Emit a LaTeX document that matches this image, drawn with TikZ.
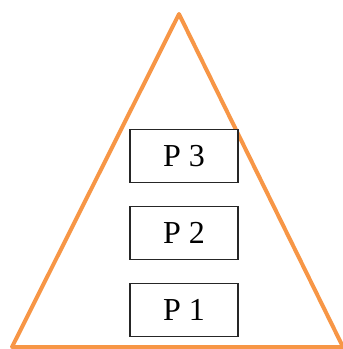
\documentclass[tikz,border=0pt]{standalone}
\usepackage{fontspec}
\setmainfont{Liberation Serif}
\usepackage{tikz}
\usetikzlibrary{positioning}
\definecolor{pyrorange}{RGB}{247,150,70}
\tikzset{
  pbox/.style={draw=black!85,line width=1.2pt,minimum width=108pt,minimum height=53pt,
            inner sep=0pt,align=center,font=\fontsize{32}{38}\selectfont,fill=white},
  pyrline/.style={draw=pyrorange,line width=4pt,line join=round},
}
\begin{document}
\begin{tikzpicture}[x=1pt,y=-1pt,node distance=23pt]
  \useasboundingbox (0,0) rectangle (343,349);
  \coordinate (apex) at (179,14);
  \coordinate (bl) at (12,347);
  \coordinate (br) at (343,347);
  \draw[pyrline] (bl) -- (apex) -- (br) -- cycle;
  \node[pbox] (p1) at (184,310) {P 1};
  \node[pbox,above=of p1] (p2) {P 2};
  \node[pbox,above=of p2] (p3) {P 3};
\end{tikzpicture}
\end{document}
